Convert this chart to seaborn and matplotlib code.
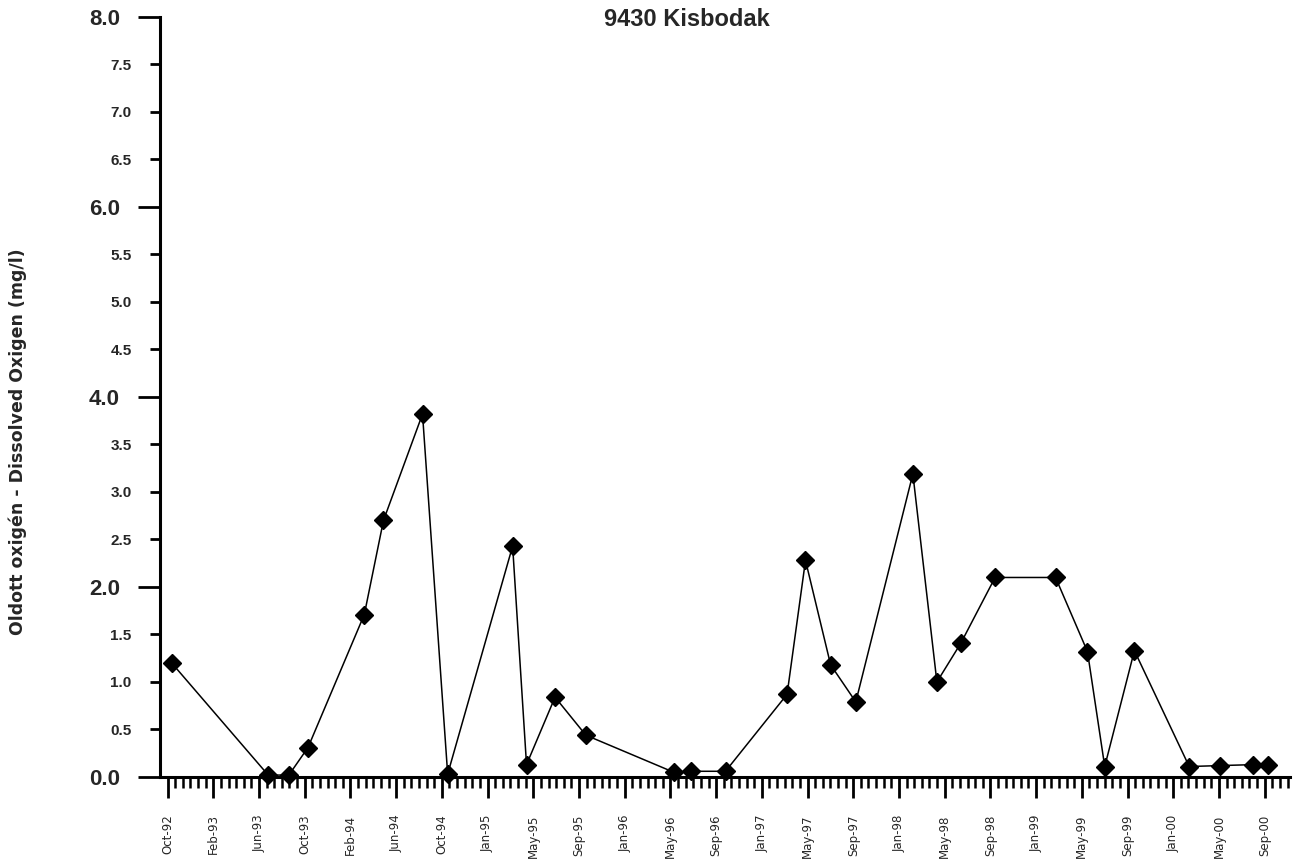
import matplotlib
matplotlib.use("Agg")
import matplotlib.pyplot as plt
import matplotlib.dates as mdates
import numpy as np
import pandas as pd
import seaborn as sns

# Sampling dates and dissolved oxygen readings (mg/l) at station 9430 Kisbodak
sample_dates = [
    "1992-10-12", "1993-06-26", "1993-08-20", "1993-10-10", "1994-03-09",
    "1994-04-29", "1994-08-11", "1994-10-17", "1995-04-08", "1995-05-15",
    "1995-07-30", "1995-10-20", "1996-06-10", "1996-07-26", "1996-10-26",
    "1997-04-08", "1997-05-27", "1997-08-02", "1997-10-08", "1998-03-09",
    "1998-05-12", "1998-07-15", "1998-10-14", "1999-03-24", "1999-06-17",
    "1999-08-02", "1999-10-20", "2000-03-14", "2000-06-05", "2000-09-01",
    "2000-10-10",
]
oxygen_mg_l = [
    1.20, 0.02, 0.02, 0.31, 1.71,
    2.70, 3.82, 0.03, 2.43, 0.13,
    0.84, 0.44, 0.05, 0.06, 0.06,
    0.87, 2.28, 1.18, 0.79, 3.19,
    1.00, 1.41, 2.10, 2.10, 1.32,
    0.11, 1.33, 0.11, 0.12, 0.13,
    0.13,
]

# Axis tick labels
month_labels = [
    "Oct-92", "Feb-93", "Jun-93", "Oct-93", "Feb-94", "Jun-94", "Oct-94",
    "Jan-95", "May-95", "Sep-95", "Jan-96", "May-96", "Sep-96", "Jan-97",
    "May-97", "Sep-97", "Jan-98", "May-98", "Sep-98", "Jan-99", "May-99",
    "Sep-99", "Jan-00", "May-00", "Sep-00",
]
y_major = [0.0, 2.0, 4.0, 6.0, 8.0]
y_minor = [0.5, 1.0, 1.5, 2.5, 3.0, 3.5, 4.5, 5.0, 5.5, 6.5, 7.0, 7.5]

sns.set_theme(style="white")
plt.rcParams["font.family"] = ["Liberation Sans", "DejaVu Sans"]

fig = plt.figure(figsize=(12.95, 8.66), dpi=100)
ax = fig.add_axes([0.1236, 0.1028, 0.8727, 0.8776])

df = pd.DataFrame({"date": pd.to_datetime(sample_dates), "do": oxygen_mg_l})
sns.lineplot(
    data=df, x="date", y="do", ax=ax, estimator=None, sort=False,
    color="black", linewidth=1.1, marker="D", markersize=9,
    markerfacecolor="black", markeredgecolor="black", markeredgewidth=1.0,
)
for ln in ax.lines:
    ln.set_clip_on(False)
    ln.set_zorder(4)

# Date axis: labelled ticks every third of a year, minor ticks in between
origin = pd.Timestamp("1992-10-01")
step_days = 121.75
origin_num = mdates.date2num(origin)
x_lo, x_hi = origin_num - 20, origin_num + 2990
major_pos = [origin_num + k * step_days for k in range(len(month_labels))]
minor_pos = [origin_num + k * step_days / 6.0
             for k in range(0, 6 * len(month_labels) + 3)
             if k % 6 != 0]
minor_pos = [p for p in minor_pos if x_lo <= p <= x_hi]
ax.set_xticks(major_pos)
ax.set_xticklabels(month_labels, rotation=90, fontsize=8.5,
                   family=["DejaVu Sans"])
ax.set_xticks(minor_pos, minor=True)
ax.set_xlim(x_lo, x_hi)

ax.set_yticks(y_major)
ax.set_yticklabels([f"{v:.1f}" for v in y_major], fontsize=16,
                   fontweight="bold")
ax.set_yticks(y_minor, minor=True)
ax.set_yticklabels([f"{v:.1f}" for v in y_minor], minor=True, fontsize=11,
                   fontweight="bold")
ax.set_ylim(0, 8)

ax.tick_params(axis="x", which="major", direction="out", length=15,
               width=2.0, pad=12, color="black", bottom=True)
ax.tick_params(axis="x", which="minor", direction="out", length=8,
               width=1.8, color="black", bottom=True)
ax.tick_params(axis="y", which="major", direction="out", length=16,
               width=2.0, pad=13, color="black", left=True)
ax.tick_params(axis="y", which="minor", direction="out", length=7.5,
               width=2.0, pad=13, color="black", left=True)

for side in ("top", "right"):
    ax.spines[side].set_visible(False)
for side in ("left", "bottom"):
    ax.spines[side].set_color("black")
    ax.spines[side].set_linewidth(2.2)

ax.set_xlabel("")
ax.set_ylabel("")
fig.text(18 / 1295, 1 - 442 / 866,
         "Oldott oxigén - Dissolved Oxigen (mg/l)",
         rotation=90, ha="center", va="center", fontsize=12.5,
         fontweight="bold", family=["DejaVu Sans"])
fig.text(687 / 1295, 1 - 20 / 866, "9430 Kisbodak",
         ha="center", va="center", fontsize=17, fontweight="bold",
         family=["Liberation Sans Narrow", "Liberation Sans"])

fig.savefig("out.png", dpi=100, facecolor="white")
